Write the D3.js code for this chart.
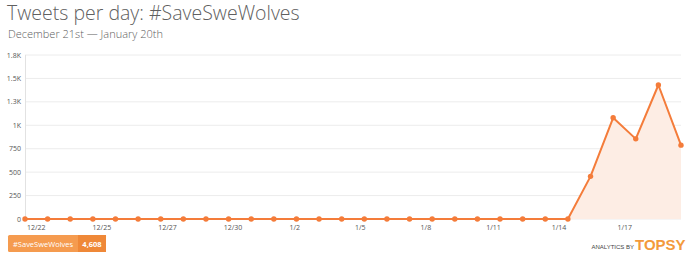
<!DOCTYPE html>
<html>
<head>
<meta charset="utf-8">
<script src="https://cdn.jsdelivr.net/npm/d3@7"></script>
<style>
  body { margin: 0; background: #fff; font-family: "Open Sans", sans-serif; }
  svg { display: block; }
</style>
</head>
<body>
<div id="chart"></div>
<script>
// Daily tweet counts, Dec 22 .. Jan 20
const days = ["12/22","12/23","12/24","12/25","12/26","12/27","12/28","12/29","12/30","12/31",
  "1/1","1/2","1/3","1/4","1/5","1/6","1/7","1/8","1/9","1/10",
  "1/11","1/12","1/13","1/14","1/15","1/16","1/17","1/18","1/19","1/20"];
const tweets = [0,0,0,0,0,0,0,0,0,0,
  0,0,0,0,0,0,0,0,0,0,
  0,0,0,0,0,455,1080,855,1430,788];

// x labels sit at fractional day offsets (evenly spaced in pixels)
const tickLabels = ["12/22","12/25","12/27","12/30","1/2","1/5","1/8","1/11","1/14","1/17"];
const tickDays = [0, 2.9, 5.8, 8.7, 11.6, 14.5, 17.4, 20.3, 23.2, 26.1];

const yTicks = [0, 250, 500, 750, 1000, 1250, 1500, 1750];
const yTickLabels = ["0","250","500","750","1K","1.3K","1.5K","1.8K"];

const seriesName = "#SaveSweWolves";
const seriesTotal = "4,608";

const W = 700, H = 271;
const margin = { top: 55, right: 19, bottom: 52, left: 25 };
const width = W - margin.left - margin.right;
const height = H - margin.top - margin.bottom;

const orange = "#f47c3a";

const svg = d3.select("#chart")
    .append("svg")
    .attr("width", W)
    .attr("height", H);

// Title
svg.append("text")
    .attr("x", 7)
    .attr("y", 20)
    .attr("fill", "#606060")
    .style("font-size", "19.5px")
    .style("font-weight", 300)
    .text("Tweets per day: #SaveSweWolves");

svg.append("text")
    .attr("x", 8)
    .attr("y", 38)
    .attr("fill", "#606060")
    .style("font-size", "11px")
    .style("font-weight", 300)
    .text("December 21st \u2014 January 20th");

const g = svg.append("g")
    .attr("transform", `translate(${margin.left},${margin.top})`);

const x = d3.scaleLinear()
    .domain([0, days.length - 1])
    .range([0, width]);

const y = d3.scaleLinear()
    .domain([0, 1750])
    .range([height, 0]);

// Grid lines
g.selectAll(".grid")
    .data(yTicks)
    .enter().append("line")
    .attr("x1", 0)
    .attr("x2", width)
    .attr("y1", d => y(d))
    .attr("y2", d => y(d))
    .attr("stroke", "#ececec")
    .attr("stroke-width", 1);

// Vertical axis line
g.append("line")
    .attr("x1", 0.5).attr("x2", 0.5)
    .attr("y1", 0).attr("y2", height)
    .attr("stroke", "#e2e2e2");

// Y tick labels
g.selectAll(".ylab")
    .data(yTicks)
    .enter().append("text")
    .attr("x", -4)
    .attr("y", d => y(d) + 2.5)
    .attr("text-anchor", "end")
    .attr("fill", "#555")
    .style("font-size", "7px")
    .text((d, i) => yTickLabels[i]);

// X tick labels
g.selectAll(".xlab")
    .data(tickDays)
    .enter().append("text")
    .attr("x", d => x(d) + 2)
    .attr("y", height + 11)
    .attr("fill", "#555")
    .style("font-size", "7px")
    .text((d, i) => tickLabels[i]);

// Area + line
const area = d3.area()
    .x((d, i) => x(i))
    .y0(y(0))
    .y1(d => y(d));

const line = d3.line()
    .x((d, i) => x(i))
    .y(d => y(d));

g.append("path")
    .datum(tweets)
    .attr("fill", "#fdede4")
    .attr("d", area);

g.append("path")
    .datum(tweets)
    .attr("fill", "none")
    .attr("stroke", orange)
    .attr("stroke-width", 2)
    .attr("stroke-linejoin", "round")
    .attr("d", line);

g.selectAll(".dot")
    .data(tweets)
    .enter().append("circle")
    .attr("cx", (d, i) => x(i))
    .attr("cy", d => y(d))
    .attr("r", 2.7)
    .attr("fill", orange);

// Legend badge
const leg = svg.append("g").attr("transform", "translate(8,235)");
leg.append("rect")
    .attr("width", 98).attr("height", 17).attr("rx", 1.5)
    .attr("fill", "#f59b4f");
leg.append("rect")
    .attr("x", 70).attr("width", 28).attr("height", 17)
    .attr("fill", "#ef8838");
leg.append("text")
    .attr("x", 5).attr("y", 11.5)
    .attr("fill", "#fff")
    .style("font-size", "7.5px")
    .text(seriesName);
leg.append("text")
    .attr("x", 84).attr("y", 11.5)
    .attr("text-anchor", "middle")
    .attr("fill", "#fff")
    .style("font-size", "7.5px")
    .style("font-weight", 700)
    .text(seriesTotal);

// Topsy logo
svg.append("text")
    .attr("x", 634)
    .attr("y", 249)
    .attr("text-anchor", "end")
    .attr("fill", "#444")
    .style("font-family", "Liberation Sans, sans-serif")
    .style("font-size", "6px")
    .text("ANALYTICS BY");

svg.append("text")
    .attr("x", 635)
    .attr("y", 249.5)
    .attr("fill", "#f39a3c")
    .style("font-family", "Liberation Sans, sans-serif")
    .style("font-size", "15px")
    .style("font-weight", 700)
    .text("TOPSY");
</script>
</body>
</html>
